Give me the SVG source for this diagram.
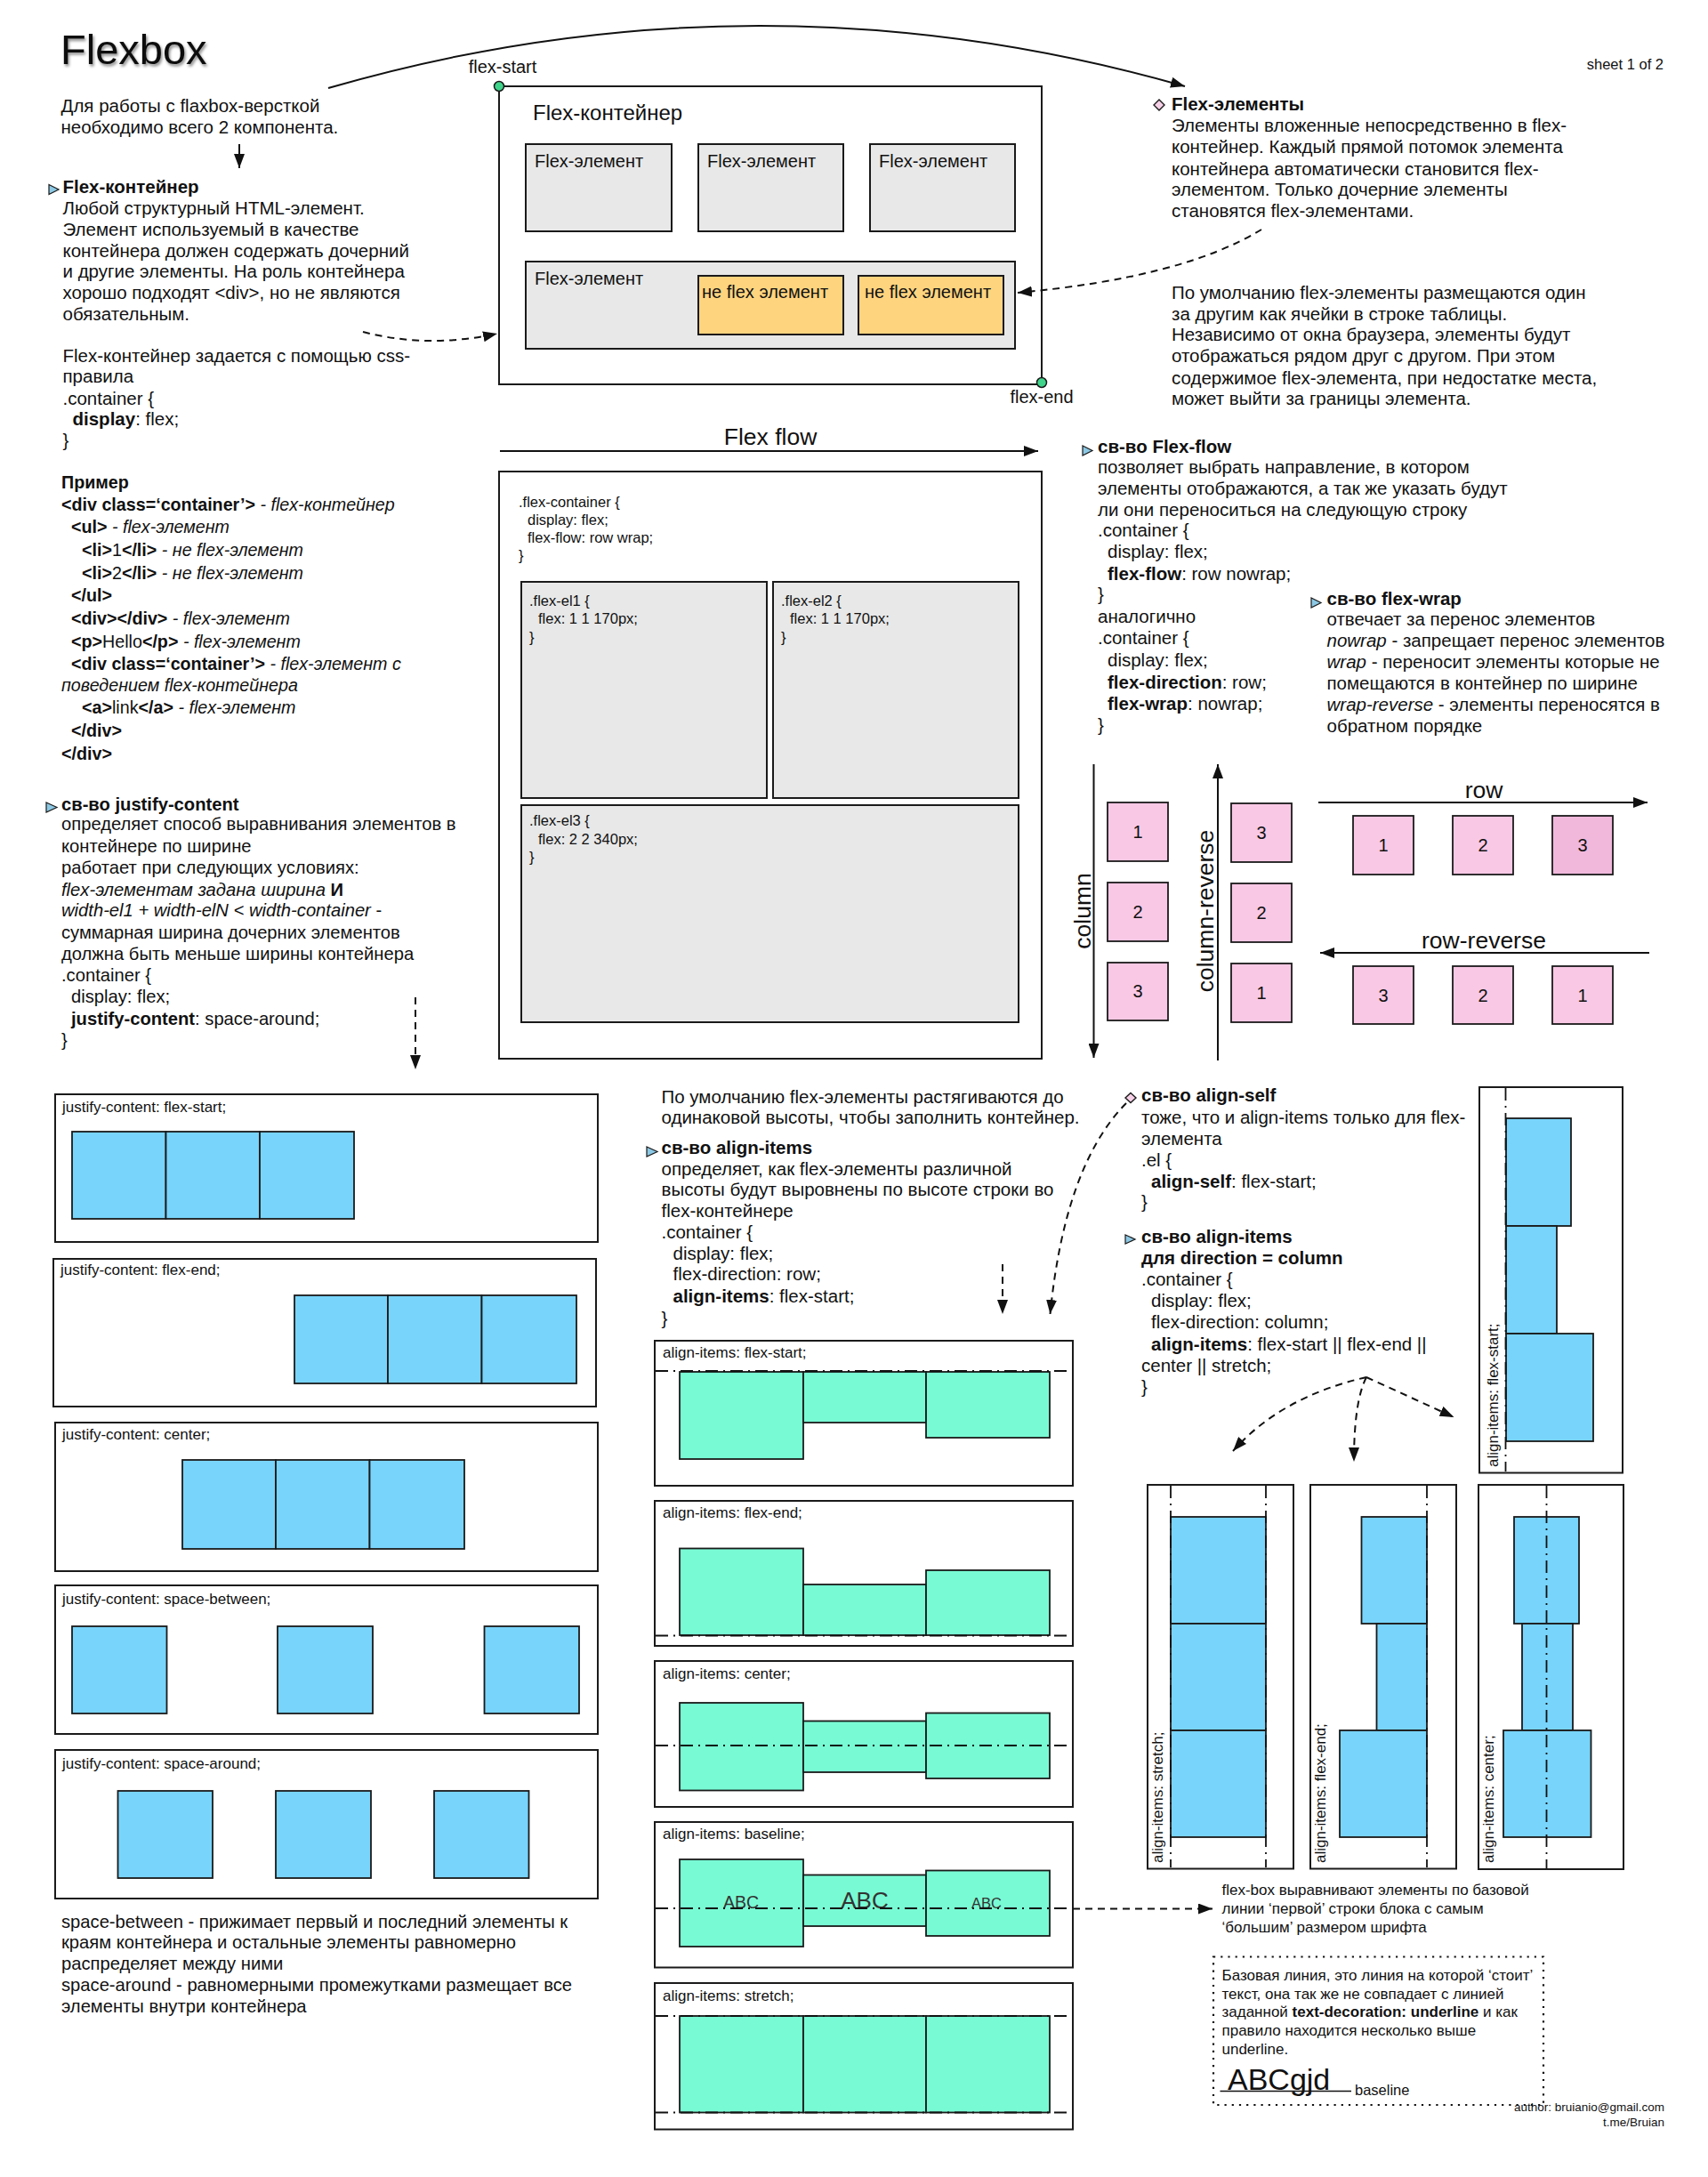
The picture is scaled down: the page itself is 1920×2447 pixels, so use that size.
<svg xmlns="http://www.w3.org/2000/svg" width="1920" height="2447" viewBox="0 0 1920 2447">
<style>
text{font-family:"Liberation Sans",Arial,sans-serif;fill:#111}
.t{font-size:20.5px}
.ex{font-size:19.7px}
.jt{font-size:20.2px}
.b{font-weight:bold}
.i{font-style:italic}
.lbl{font-size:17px}
.code{font-size:16.5px}
.note{font-size:17px}
.big{font-size:26.5px}
.num{font-size:20px;text-anchor:middle}
.box{fill:#fff;stroke:#1a1a1a;stroke-width:2}
.gray{fill:#e8e8e8;stroke:#1a1a1a;stroke-width:2}
.yel{fill:#ffd47f;stroke:#1a1a1a;stroke-width:2}
.blue{fill:#78d4fb;stroke:#1a1a1a;stroke-width:1.8}
.mint{fill:#78fbd4;stroke:#1a1a1a;stroke-width:1.8}
.pink{fill:#f9c8e5;stroke:#1a1a1a;stroke-width:1.8}
.line{fill:none;stroke:#111;stroke-width:2}
.dash{fill:none;stroke:#111;stroke-width:2;stroke-dasharray:8 6}
.dd{fill:none;stroke:#111;stroke-width:1.8;stroke-dasharray:14 6 2 6}
.tri{fill:#8cc8e4;stroke:#1a1a1a;stroke-width:1.2}
.dia{fill:#f6d0e6;stroke:#1a1a1a;stroke-width:1.4}
</style>
<defs>
<marker id="ah" viewBox="0 0 16 12" refX="16" refY="6" markerWidth="16" markerHeight="12" markerUnits="userSpaceOnUse" orient="auto"><path d="M0,0 L16,6 L0,12 z" fill="#111"/></marker>
<filter id="sh" x="-10%" y="-20%" width="130%" height="160%"><feDropShadow dx="1.5" dy="2.5" stdDeviation="1.8" flood-color="#000" flood-opacity="0.45"/></filter>
</defs>
<rect width="1920" height="2447" fill="#fff"/>

<g id="title">
<text x="68" y="72" style="font-size:47px" filter="url(#sh)">Flexbox</text>
<text x="1870" y="78" style="font-size:16.5px;text-anchor:end">sheet 1 of 2</text>
</g>

<g id="intro">
<text class="t"><tspan x="68.5" y="125.7">Для работы с flaxbox-версткой</tspan><tspan x="68.5" y="149.5">необходимо всего 2 компонента.</tspan></text>
</g>

<g id="flex-container-text">
<polygon class="tri" points="55,207.5 66,213 55,218.5"/>
<text class="t"><tspan x="70.5" y="217" class="b">Flex-контейнер</tspan>
<tspan x="70.5" y="241">Любой структурный HTML-элемент.</tspan>
<tspan x="70.5" y="265">Элемент используемый в качестве</tspan>
<tspan x="70.5" y="289">контейнера должен содержать дочерний</tspan>
<tspan x="70.5" y="312">и другие элементы. На роль контейнера</tspan>
<tspan x="70.5" y="336">хорошо подходят &lt;div&gt;, но не являются</tspan>
<tspan x="70.5" y="360">обязательным.</tspan>
<tspan x="70.5" y="407">Flex-контейнер задается с помощью css-</tspan>
<tspan x="70.5" y="430">правила</tspan>
<tspan x="70.5" y="455">.container {</tspan>
<tspan x="81.5" y="478" class="b">display</tspan><tspan>: flex;</tspan>
<tspan x="70.5" y="502">}</tspan></text>
</g>

<g id="example">
<text class="ex"><tspan x="69" y="549" class="b">Пример</tspan>
<tspan x="69" y="574" class="b">&lt;div class=‘container’&gt;</tspan><tspan class="i"> - flex-контейнер</tspan>
<tspan x="80" y="599" class="b">&lt;ul&gt;</tspan><tspan class="i"> - flex-элемент</tspan>
<tspan x="92" y="625" class="b">&lt;li&gt;</tspan><tspan>1</tspan><tspan class="b">&lt;/li&gt;</tspan><tspan class="i"> - не flex-элемент</tspan>
<tspan x="92" y="651" class="b">&lt;li&gt;</tspan><tspan>2</tspan><tspan class="b">&lt;/li&gt;</tspan><tspan class="i"> - не flex-элемент</tspan>
<tspan x="80" y="676" class="b">&lt;/ul&gt;</tspan>
<tspan x="80" y="702" class="b">&lt;div&gt;&lt;/div&gt;</tspan><tspan class="i"> - flex-элемент</tspan>
<tspan x="80" y="728" class="b">&lt;p&gt;</tspan><tspan>Hello</tspan><tspan class="b">&lt;/p&gt;</tspan><tspan class="i"> - flex-элемент</tspan>
<tspan x="80" y="753" class="b">&lt;div class=‘container’&gt;</tspan><tspan class="i"> - flex-элемент с</tspan>
<tspan x="69" y="777" class="i">поведением flex-контейнера</tspan>
<tspan x="92" y="802" class="b">&lt;a&gt;</tspan><tspan>link</tspan><tspan class="b">&lt;/a&gt;</tspan><tspan class="i"> - flex-элемент</tspan>
<tspan x="80" y="828" class="b">&lt;/div&gt;</tspan>
<tspan x="69" y="854" class="b">&lt;/div&gt;</tspan></text>
</g>

<g id="justify-text">
<polygon class="tri" points="52,902 64,907.5 52,913"/>
<text class="jt"><tspan x="69" y="911" class="b">св-во justify-content</tspan>
<tspan x="69" y="933">определяет способ выравнивания элементов в</tspan>
<tspan x="69" y="957.5">контейнере по ширине</tspan>
<tspan x="69" y="982">работает при следующих условиях:</tspan>
<tspan x="69" y="1007" class="i">flex-элементам задана ширина </tspan><tspan class="b">И</tspan>
<tspan x="69" y="1030" class="i">width-el1 + width-elN &lt; width-container</tspan><tspan> -</tspan>
<tspan x="69" y="1055">суммарная ширина дочерних элементов</tspan>
<tspan x="69" y="1079">должна быть меньше ширины контейнера</tspan>
<tspan x="69" y="1103">.container {</tspan>
<tspan x="80" y="1127">display: flex;</tspan>
<tspan x="80" y="1152" class="b">justify-content</tspan><tspan>: space-around;</tspan>
<tspan x="69" y="1176">}</tspan></text>
</g>

<g id="flex-container-diagram">
<rect class="box" x="561" y="97" width="610" height="335"/>
<text x="599" y="135" style="font-size:24px">Flex-контейнер</text>
<rect class="gray" x="591" y="162" width="164" height="98"/>
<rect class="gray" x="785" y="162" width="163" height="98"/>
<rect class="gray" x="978" y="162" width="163" height="98"/>
<text x="601" y="188" style="font-size:20px">Flex-элемент</text>
<text x="795" y="188" style="font-size:20px">Flex-элемент</text>
<text x="988" y="188" style="font-size:20px">Flex-элемент</text>
<rect class="gray" x="591" y="294" width="550" height="98"/>
<text x="601" y="320" style="font-size:20px">Flex-элемент</text>
<rect class="yel" x="785" y="310" width="163" height="66"/>
<rect class="yel" x="965" y="310" width="163" height="66"/>
<text x="789" y="335" style="font-size:20px">не flex элемент</text>
<text x="972" y="335" style="font-size:20px">не flex элемент</text>
<circle cx="561" cy="97" r="5.5" fill="#3fd48a" stroke="#1a1a1a" stroke-width="1.5"/>
<circle cx="1171" cy="430" r="5.5" fill="#3fd48a" stroke="#1a1a1a" stroke-width="1.5"/>
<text x="565" y="82" style="font-size:20px;text-anchor:middle">flex-start</text>
<text x="1171" y="453" style="font-size:20px;text-anchor:middle">flex-end</text>
</g>

<g id="flex-elements-text">
<polygon class="dia" points="1303,112 1309,118 1303,124 1297,118"/>
<text class="t"><tspan x="1317" y="124" class="b">Flex-элементы</tspan>
<tspan x="1317" y="148">Элементы вложенные непосредственно в flex-</tspan>
<tspan x="1317" y="172">контейнер. Каждый прямой потомок элемента</tspan>
<tspan x="1317" y="197">контейнера автоматически становится flex-</tspan>
<tspan x="1317" y="220">элементом. Только дочерние элементы</tspan>
<tspan x="1317" y="244">становятся flex-элементами.</tspan>
<tspan x="1317" y="336">По умолчанию flex-элементы размещаются один</tspan>
<tspan x="1317" y="360">за другим как ячейки в строке таблицы.</tspan>
<tspan x="1317" y="383">Независимо от окна браузера, элементы будут</tspan>
<tspan x="1317" y="407">отображаться рядом друг с другом. При этом</tspan>
<tspan x="1317" y="432">содержимое flex-элемента, при недостатке места,</tspan>
<tspan x="1317" y="455">может выйти за границы элемента.</tspan></text>
</g>

<g id="flex-flow-diagram">
<text x="866" y="500" style="font-size:26.5px;text-anchor:middle">Flex flow</text>
<rect class="box" x="561" y="530" width="610" height="660"/>
<text class="code"><tspan x="583" y="570">.flex-container {</tspan><tspan x="593" y="590">display: flex;</tspan><tspan x="593" y="610">flex-flow: row wrap;</tspan><tspan x="583" y="630">}</tspan></text>
<rect class="gray" x="586" y="654" width="276" height="243"/>
<rect class="gray" x="869" y="654" width="276" height="243"/>
<rect class="gray" x="586" y="905" width="559" height="244"/>
<text class="code"><tspan x="595" y="681">.flex-el1 {</tspan><tspan x="605" y="701">flex: 1 1 170px;</tspan><tspan x="595" y="722">}</tspan></text>
<text class="code"><tspan x="878" y="681">.flex-el2 {</tspan><tspan x="888" y="701">flex: 1 1 170px;</tspan><tspan x="878" y="722">}</tspan></text>
<text class="code"><tspan x="595" y="928">.flex-el3 {</tspan><tspan x="605" y="949">flex: 2 2 340px;</tspan><tspan x="595" y="969">}</tspan></text>
</g>

<g id="flex-flow-text">
<polygon class="tri" points="1217,501 1228,506.5 1217,512"/>
<text class="t"><tspan x="1234" y="509" class="b">св-во Flex-flow</tspan>
<tspan x="1234" y="532">позволяет выбрать направление, в котором</tspan>
<tspan x="1234" y="556">элементы отображаются, а так же указать будут</tspan>
<tspan x="1234" y="580">ли они переноситься на следующую строку</tspan>
<tspan x="1234" y="603">.container {</tspan>
<tspan x="1245" y="627">display: flex;</tspan>
<tspan x="1245" y="652" class="b">flex-flow</tspan><tspan>: row nowrap;</tspan>
<tspan x="1234" y="675">}</tspan>
<tspan x="1234" y="700">аналогично</tspan>
<tspan x="1234" y="724">.container {</tspan>
<tspan x="1245" y="749">display: flex;</tspan>
<tspan x="1245" y="774" class="b">flex-direction</tspan><tspan>: row;</tspan>
<tspan x="1245" y="798" class="b">flex-wrap</tspan><tspan>: nowrap;</tspan>
<tspan x="1234" y="822">}</tspan></text>
</g>

<g id="flex-wrap-text">
<polygon class="tri" points="1474,672 1485,677.5 1474,683"/>
<text class="t"><tspan x="1491.5" y="680" class="b">св-во flex-wrap</tspan>
<tspan x="1491.5" y="703">отвечает за перенос элементов</tspan>
<tspan x="1491.5" y="727" class="i">nowrap</tspan><tspan> - запрещает перенос элементов</tspan>
<tspan x="1491.5" y="751" class="i">wrap</tspan><tspan> - переносит элементы которые не</tspan>
<tspan x="1491.5" y="775">помещаются в контейнер по ширине</tspan>
<tspan x="1491.5" y="799" class="i">wrap-reverse</tspan><tspan> - элементы переносятся в</tspan>
<tspan x="1491.5" y="823">обратном порядке</tspan></text>
</g>

<g id="direction-column">
<text class="big" transform="translate(1226,1024) rotate(-90)" style="text-anchor:middle">column</text>
<rect class="pink" x="1245" y="902" width="68" height="66"/>
<rect class="pink" x="1245" y="992" width="68" height="66"/>
<rect class="pink" x="1245" y="1082" width="68" height="65"/>
<text class="num" x="1279" y="942">1</text>
<text class="num" x="1279" y="1032">2</text>
<text class="num" x="1279" y="1121">3</text>
</g>
<g id="direction-column-reverse">
<text class="big" transform="translate(1364,1024) rotate(-90)" style="text-anchor:middle">column-reverse</text>
<rect class="pink" x="1384" y="903" width="68" height="66"/>
<rect class="pink" x="1384" y="993" width="68" height="66"/>
<rect class="pink" x="1384" y="1083" width="68" height="66"/>
<text class="num" x="1418" y="943">3</text>
<text class="num" x="1418" y="1033">2</text>
<text class="num" x="1418" y="1123">1</text>
</g>
<g id="direction-row">
<text class="big" x="1668" y="897" style="text-anchor:middle">row</text>
<rect class="pink" x="1521" y="917" width="68" height="66"/>
<rect class="pink" x="1633" y="917" width="68" height="66"/>
<rect class="pink" x="1745" y="917" width="68" height="66" style="fill:#f1b8dc"/>
<text class="num" x="1555" y="957">1</text>
<text class="num" x="1667" y="957">2</text>
<text class="num" x="1779" y="957">3</text>
</g>
<g id="direction-row-reverse">
<text class="big" x="1668" y="1066" style="text-anchor:middle">row-reverse</text>
<rect class="pink" x="1521" y="1086" width="68" height="65"/>
<rect class="pink" x="1633" y="1086" width="68" height="65"/>
<rect class="pink" x="1745" y="1086" width="68" height="65"/>
<text class="num" x="1555" y="1126">3</text>
<text class="num" x="1667" y="1126">2</text>
<text class="num" x="1779" y="1126">1</text>
</g>

<g id="justify-flex-start">
<rect class="box" x="62" y="1230" width="610" height="166"/>
<text class="lbl" x="70" y="1250">justify-content: flex-start;</text>
<rect class="blue" x="81" y="1272" width="105.5" height="98"/>
<rect class="blue" x="186.5" y="1272" width="105.5" height="98"/>
<rect class="blue" x="292" y="1272" width="106" height="98"/>
</g>
<g id="justify-flex-end">
<rect class="box" x="60" y="1415" width="610" height="166"/>
<text class="lbl" x="68" y="1433">justify-content: flex-end;</text>
<rect class="blue" x="331" y="1456" width="105" height="99"/>
<rect class="blue" x="436" y="1456" width="105.5" height="99"/>
<rect class="blue" x="541.5" y="1456" width="106.5" height="99"/>
</g>
<g id="justify-center">
<rect class="box" x="62" y="1599" width="610" height="167"/>
<text class="lbl" x="70" y="1618">justify-content: center;</text>
<rect class="blue" x="205" y="1641" width="105" height="100"/>
<rect class="blue" x="310" y="1641" width="105.5" height="100"/>
<rect class="blue" x="415.5" y="1641" width="106.5" height="100"/>
</g>
<g id="justify-space-between">
<rect class="box" x="62" y="1782" width="610" height="167"/>
<text class="lbl" x="70" y="1803">justify-content: space-between;</text>
<rect class="blue" x="81" y="1828" width="106.5" height="98"/>
<rect class="blue" x="312" y="1828" width="107" height="98"/>
<rect class="blue" x="544.5" y="1828" width="106.5" height="98"/>
</g>
<g id="justify-space-around">
<rect class="box" x="62" y="1967" width="610" height="167"/>
<text class="lbl" x="70" y="1988">justify-content: space-around;</text>
<rect class="blue" x="132.5" y="2013" width="106.5" height="98"/>
<rect class="blue" x="310" y="2013" width="107" height="98"/>
<rect class="blue" x="488" y="2013" width="106.5" height="98"/>
</g>
<g id="justify-notes">
<text class="jt"><tspan x="69" y="2167">space-between - прижимает первый и последний элементы к</tspan>
<tspan x="69" y="2190">краям контейнера и остальные элементы равномерно</tspan>
<tspan x="69" y="2214">распределяет между ними</tspan>
<tspan x="69" y="2238">space-around - равномерными промежутками размещает все</tspan>
<tspan x="69" y="2262">элементы внутри контейнера</tspan></text>
</g>

<g id="align-items-text">
<text class="t"><tspan x="743.5" y="1239.5">По умолчанию flex-элементы растягиваются до</tspan>
<tspan x="743.5" y="1263">одинаковой высоты, чтобы заполнить контейнер.</tspan></text>
<polygon class="tri" points="727,1289 739,1294.5 727,1300"/>
<text class="t"><tspan x="743.5" y="1297" class="b">св-во align-items</tspan>
<tspan x="743.5" y="1320.5">определяет, как flex-элементы различной</tspan>
<tspan x="743.5" y="1344">высоты будут выровнены по высоте строки во</tspan>
<tspan x="743.5" y="1368">flex-контейнере</tspan>
<tspan x="743.5" y="1392">.container {</tspan>
<tspan x="756.5" y="1415.5">display: flex;</tspan>
<tspan x="756.5" y="1439">flex-direction: row;</tspan>
<tspan x="756.5" y="1464" class="b">align-items</tspan><tspan>: flex-start;</tspan>
<tspan x="743.5" y="1488.5">}</tspan></text>
</g>

<g id="align-flex-start">
<rect class="box" x="736" y="1507" width="470" height="163"/>
<text class="lbl" x="745" y="1526">align-items: flex-start;</text>
<rect class="mint" x="764" y="1542" width="139" height="98"/>
<rect class="mint" x="903" y="1542" width="138" height="57"/>
<rect class="mint" x="1041" y="1542" width="139" height="74"/>
<line class="dd" x1="737" y1="1541" x2="1205" y2="1541"/>
</g>
<g id="align-flex-end">
<rect class="box" x="736" y="1687" width="470" height="163"/>
<text class="lbl" x="745" y="1706">align-items: flex-end;</text>
<rect class="mint" x="764" y="1740.5" width="139" height="97.5"/>
<rect class="mint" x="903" y="1781" width="138" height="57"/>
<rect class="mint" x="1041" y="1765" width="139" height="73"/>
<line class="dd" x1="737" y1="1838.5" x2="1205" y2="1838.5"/>
</g>
<g id="align-center">
<rect class="box" x="736" y="1867" width="470" height="164"/>
<text class="lbl" x="745" y="1887">align-items: center;</text>
<rect class="mint" x="764" y="1914" width="139" height="98.5"/>
<rect class="mint" x="903" y="1934.5" width="138" height="57.5"/>
<rect class="mint" x="1041" y="1925.5" width="139" height="73.5"/>
<line class="dd" x1="737" y1="1962" x2="1205" y2="1962"/>
</g>
<g id="align-baseline">
<rect class="box" x="736" y="2048" width="470" height="163.5"/>
<text class="lbl" x="745" y="2067">align-items: baseline;</text>
<rect class="mint" x="764" y="2090" width="139" height="98"/>
<rect class="mint" x="903" y="2107.5" width="138" height="57.5"/>
<rect class="mint" x="1041" y="2102.5" width="139" height="73.5"/>
<text x="833" y="2145" style="font-size:19.5px;text-anchor:middle;fill:#333">ABC</text>
<text x="972" y="2145" style="font-size:26px;text-anchor:middle;fill:#333">ABC</text>
<text x="1109" y="2145" style="font-size:16.5px;text-anchor:middle;fill:#333">ABC</text>
<line class="dd" x1="737" y1="2145" x2="1205" y2="2145"/>
</g>
<g id="align-stretch">
<rect class="box" x="736" y="2229" width="470" height="164.5"/>
<text class="lbl" x="745" y="2249">align-items: stretch;</text>
<rect class="mint" x="764" y="2266" width="139" height="108.5"/>
<rect class="mint" x="903" y="2266" width="138" height="108.5"/>
<rect class="mint" x="1041" y="2266" width="139" height="108.5"/>
<line class="dd" x1="737" y1="2266" x2="1205" y2="2266"/>
<line class="dd" x1="737" y1="2374.5" x2="1205" y2="2374.5"/>
</g>

<g id="align-self-text">
<polygon class="dia" points="1271,1228.5 1277,1234 1271,1239.5 1265,1234"/>
<text class="t"><tspan x="1283" y="1238" class="b">св-во align-self</tspan>
<tspan x="1283" y="1263">тоже, что и align-items только для flex-</tspan>
<tspan x="1283" y="1287">элемента</tspan>
<tspan x="1283" y="1311">.el {</tspan>
<tspan x="1294" y="1334.5" class="b">align-self</tspan><tspan>: flex-start;</tspan>
<tspan x="1283" y="1358">}</tspan></text>
</g>
<g id="align-items-column-text">
<polygon class="tri" points="1265,1388 1276,1393 1265,1398"/>
<text class="t"><tspan x="1283" y="1396.5" class="b">св-во align-items</tspan>
<tspan x="1283" y="1421" class="b">для direction = column</tspan>
<tspan x="1283" y="1445">.container {</tspan>
<tspan x="1294" y="1469">display: flex;</tspan>
<tspan x="1294" y="1492.5">flex-direction: column;</tspan>
<tspan x="1294" y="1518" class="b">align-items</tspan><tspan>: flex-start || flex-end ||</tspan>
<tspan x="1283" y="1542">center || stretch;</tspan>
<tspan x="1283" y="1566">}</tspan></text>
</g>

<g id="col-flex-start">
<rect class="box" x="1663" y="1222" width="161" height="433.5"/>
<rect class="blue" x="1693" y="1257" width="73" height="121"/>
<rect class="blue" x="1693" y="1378" width="57" height="121"/>
<rect class="blue" x="1693" y="1499" width="98" height="121"/>
<line class="dd" x1="1692.5" y1="1223" x2="1692.5" y2="1654"/>
<text class="lbl" transform="translate(1684,1649) rotate(-90)">align-items: flex-start;</text>
</g>
<g id="col-stretch">
<rect class="box" x="1290" y="1669" width="164" height="431.5"/>
<rect class="blue" x="1316" y="1705" width="107" height="120"/>
<rect class="blue" x="1316" y="1825" width="107" height="120"/>
<rect class="blue" x="1316" y="1945" width="107" height="120"/>
<line class="dd" x1="1316" y1="1670" x2="1316" y2="2099"/>
<line class="dd" x1="1423" y1="1670" x2="1423" y2="2099"/>
<text class="lbl" transform="translate(1307,2094) rotate(-90)">align-items: stretch;</text>
</g>
<g id="col-flex-end">
<rect class="box" x="1473" y="1669" width="164" height="431.5"/>
<rect class="blue" x="1530.5" y="1705" width="73.5" height="120"/>
<rect class="blue" x="1547.5" y="1825" width="56.5" height="120"/>
<rect class="blue" x="1506" y="1945" width="98" height="120"/>
<line class="dd" x1="1604" y1="1670" x2="1604" y2="2099"/>
<text class="lbl" transform="translate(1490,2094) rotate(-90)">align-items: flex-end;</text>
</g>
<g id="col-center">
<rect class="box" x="1662" y="1669" width="163" height="432"/>
<rect class="blue" x="1702" y="1705" width="73" height="120"/>
<rect class="blue" x="1711" y="1825" width="57" height="120"/>
<rect class="blue" x="1690" y="1945" width="98.5" height="120"/>
<line class="dd" x1="1738.5" y1="1670" x2="1738.5" y2="2100"/>
<text class="lbl" transform="translate(1679,2094) rotate(-90)">align-items: center;</text>
</g>

<g id="baseline-notes">
<text class="note"><tspan x="1373.5" y="2130">flex-box выравнивают элементы по базовой</tspan>
<tspan x="1373.5" y="2151">линии ‘первой’ строки блока с самым</tspan>
<tspan x="1373.5" y="2171.5">‘большим’ размером шрифта</tspan></text>
<rect x="1364" y="2199.5" width="371" height="166.5" fill="none" stroke="#111" stroke-width="2.2" stroke-dasharray="2.2 6"/>
<text class="note"><tspan x="1373.5" y="2226">Базовая линия, это линия на которой ‘стоит’</tspan>
<tspan x="1373.5" y="2246.5">текст, она так же не совпадает с линией</tspan>
<tspan x="1373.5" y="2267">заданной </tspan><tspan class="b">text-decoration: underline</tspan><tspan> и как</tspan>
<tspan x="1373.5" y="2288">правило находится несколько выше</tspan>
<tspan x="1373.5" y="2308.5">underline.</tspan></text>
<text x="1380" y="2349" style="font-size:34px">ABCgjd</text>
<line x1="1371.5" y1="2350.5" x2="1519" y2="2350.5" stroke="#111" stroke-width="1.5"/>
<text x="1523" y="2355" style="font-size:16.5px">baseline</text>
<text style="font-size:13.5px;text-anchor:end"><tspan x="1871" y="2373">author: bruianio@gmail.com</tspan><tspan x="1871" y="2390">t.me/Bruian</tspan></text>
</g>

<g id="connectors">
<path class="line" d="M369,99 Q850,-40 1332,97" marker-end="url(#ah)"/>
<line class="line" x1="269" y1="162" x2="269" y2="189" marker-end="url(#ah)"/>
<path class="dash" d="M408,373 Q480,392 559,375" marker-end="url(#ah)"/>
<path class="dash" d="M1418,258 Q1330,312 1144,329" marker-end="url(#ah)"/>
<line class="line" x1="562" y1="507" x2="1167" y2="507" marker-end="url(#ah)"/>
<line class="line" x1="1229.5" y1="859" x2="1229.5" y2="1189" marker-end="url(#ah)"/>
<line class="line" x1="1369" y1="1192" x2="1369" y2="859" marker-end="url(#ah)"/>
<line class="line" x1="1482" y1="902" x2="1852" y2="902" marker-end="url(#ah)"/>
<line class="line" x1="1854" y1="1071" x2="1484" y2="1071" marker-end="url(#ah)"/>
<line class="dash" x1="467" y1="1121" x2="467" y2="1202" marker-end="url(#ah)"/>
<line class="dash" x1="1127" y1="1421" x2="1127" y2="1477" marker-end="url(#ah)"/>
<path class="dash" d="M1266,1240 Q1197,1310 1180.5,1477" marker-end="url(#ah)"/>
<path class="dash" d="M1536,1548 Q1440,1570 1386,1631" marker-end="url(#ah)"/>
<path class="dash" d="M1536,1548 Q1522,1575 1522,1643" marker-end="url(#ah)"/>
<path class="dash" d="M1536,1548 L1634.5,1593" marker-end="url(#ah)"/>
<line class="dash" x1="1206" y1="2145.5" x2="1363" y2="2145.5" marker-end="url(#ah)"/>
</g>
</svg>
